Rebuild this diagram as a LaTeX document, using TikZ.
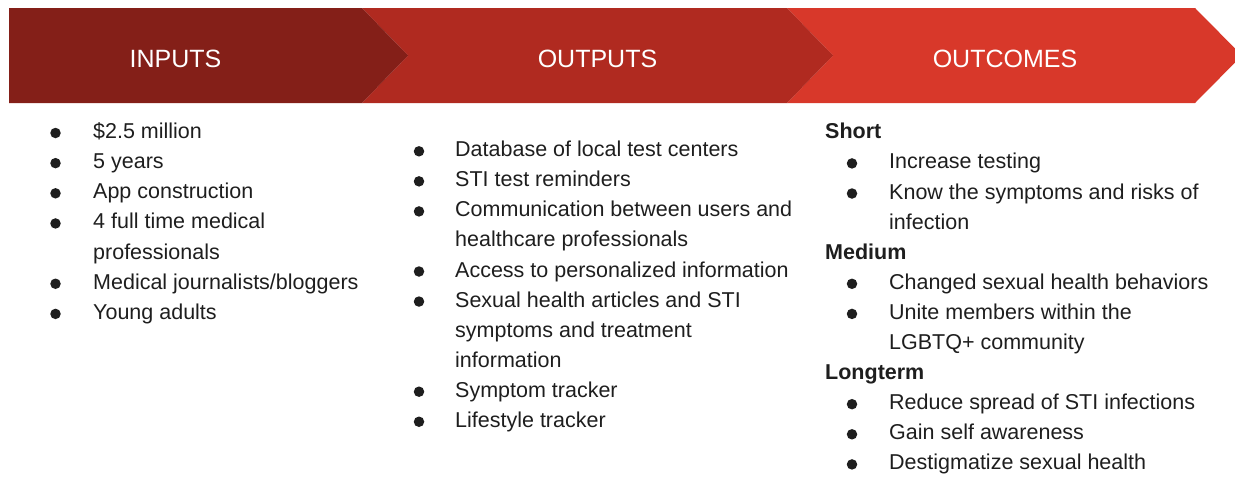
\documentclass[tikz,border=0pt]{standalone}
\usepackage{fontspec}
\setmainfont{Liberation Sans}
\usetikzlibrary{positioning}

\definecolor{chevA}{HTML}{841F18}
\definecolor{chevB}{HTML}{B02A20}
\definecolor{chevC}{HTML}{D8382A}
\definecolor{ink}{HTML}{1E1E1E}

\begin{document}
\begin{tikzpicture}[x=1pt,y=-1pt]
		\tikzset{head/.style = {text=white, font=\fontsize{25}{30}\selectfont, anchor=base, inner sep=0pt}}
		\tikzset{entry/.style = {text=ink, font=\fontsize{21.5}{30}\selectfont, anchor=base west, inner sep=0pt}}
		\tikzset{group/.style = {entry, font=\bfseries\fontsize{21.5}{30}\selectfont}}
		\tikzset{dot/.style = {circle, fill=ink, inner sep=0pt, minimum size=10.5pt}}
		\clip (0,0) rectangle (1235,477);
		% chevrons
		\fill[chevC] (787,8) -- (1195,8) -- (1242,55.5) -- (1195,103) -- (787,103) -- (833,55.5) -- cycle;
		\fill[chevB] (362,8) -- (787,8) -- (833,55.5) -- (787,103) -- (362,103) -- (408,55.5) -- cycle;
		\fill[chevA] (9,8) -- (362,8) -- (408,55.5) -- (362,103) -- (9,103) -- cycle;
		% headings
		\node[head] (inputs) at (175.5,67) {INPUTS};
		\node[head] (outputs) at (597.5,67) {OUTPUTS};
		\node[head] (outcomes) at (1005,67) {OUTCOMES};
		% inputs
		\foreach \kind/\txt [count=\i from 0] in {1/{\$2.5 million}, 1/{5 years}, 1/{App construction},
				1/{4 full time medical}, 2/{professionals}, 1/{Medical journalists/bloggers}, 1/{Young adults}}{
			\node[entry] (in-\i) at (93,{138.5+30.15*\i}) {\txt};
			\ifnum\kind=1 \node[dot] (in-dot-\i) at (55.5,{133+30.15*\i}) {}; \fi
		}
		% outputs
		\foreach \kind/\txt [count=\i from 0] in {1/{Database of local test centers}, 1/{STI test reminders},
				1/{Communication between users and}, 2/{healthcare professionals},
				1/{Access to personalized information}, 1/{Sexual health articles and STI},
				2/{symptoms and treatment}, 2/{information}, 1/{Symptom tracker}, 1/{Lifestyle tracker}}{
			\node[entry] (op-\i) at (455,{156.8+30.05*\i}) {\txt};
			\ifnum\kind=1 \node[dot] (op-dot-\i) at (419,{151.3+30.05*\i}) {}; \fi
		}
		% outcomes
		\foreach \kind/\txt [count=\i from 0] in {0/{Short}, 1/{Increase testing}, 1/{Know the symptoms and risks of},
				2/{infection}, 0/{Medium}, 1/{Changed sexual health behaviors}, 1/{Unite members within the},
				2/{LGBTQ+ community}, 0/{Longterm}, 1/{Reduce spread of STI infections},
				1/{Gain self awareness}, 1/{Destigmatize sexual health}}{
			\ifnum\kind=0
				\node[group] (oc-\i) at (825,{138.8+30.1*\i}) {\txt};
			\else
				\node[entry] (oc-\i) at (889,{138.8+30.1*\i}) {\txt};
			\fi
			\ifnum\kind=1 \node[dot] (oc-dot-\i) at (852,{133.3+30.1*\i}) {}; \fi
		}
\end{tikzpicture}
\end{document}
